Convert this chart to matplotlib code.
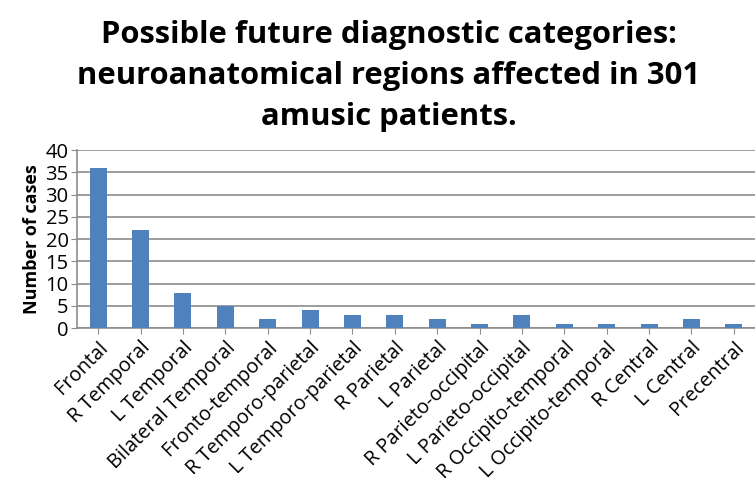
import matplotlib.pyplot as plt
import numpy as np

regions = ["Frontal", "R Temporal", "L Temporal", "Bilateral Temporal",
           "Fronto-temporal", "R Temporo-parietal", "L Temporo-parietal",
           "R Parietal", "L Parietal", "R Parieto-occipital",
           "L Parieto-occipital", "R Occipito-temporal", "L Occipito-temporal",
           "R Central", "L Central", "Precentral"]
cases = [36, 22, 8, 5, 2, 4, 3, 3, 2, 1, 3, 1, 1, 1, 2, 1]

plt.rcParams['font.family'] = ['Open Sans', 'DejaVu Sans']

fig = plt.figure(figsize=(7.55, 4.84), dpi=100)
ax = fig.add_axes([0.102, 0.322, 0.898, 0.368])

x = np.arange(len(regions))
ax.bar(x, cases, width=0.4, color='#4F81BD', zorder=3)

ax.set_xlim(-0.5, len(regions) - 0.5)
ax.set_ylim(0, 40)
ax.set_yticks(range(0, 41, 5))
ax.yaxis.grid(True, color='#8c8c8c', linewidth=1.2, zorder=0)
ax.set_xticks(x)
ax.set_xticklabels(regions, rotation=45, ha='right', rotation_mode='anchor', fontsize=14.3)
ax.tick_params(axis='y', labelsize=14.5, length=4, color='#8c8c8c', pad=2)
ax.tick_params(axis='x', length=4, color='#8c8c8c', pad=3)

for s in ['top', 'right']:
    ax.spines[s].set_visible(False)
for s in ['left', 'bottom']:
    ax.spines[s].set_color('#8c8c8c')
    ax.spines[s].set_linewidth(1.2)

ax.set_ylabel('Number of cases', fontsize=13, fontweight='bold', labelpad=3)

fig.text(0.515, 0.958, 'Possible future diagnostic categories:\nneuroanatomical regions affected in 301\namusic patients.',
         ha='center', va='top', fontsize=22.3, fontweight='bold', linespacing=1.48)

plt.savefig('out.png', dpi=100)
